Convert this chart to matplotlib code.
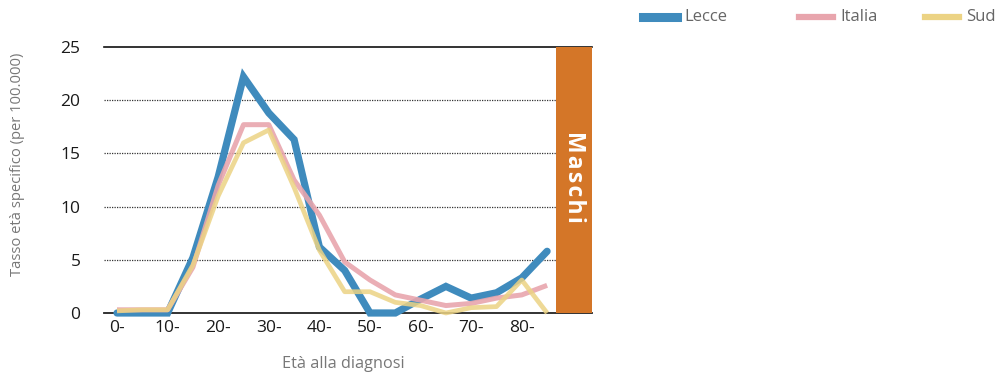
import matplotlib
matplotlib.use("Agg")
import matplotlib.pyplot as plt
from matplotlib.patches import Rectangle

plt.rcParams['font.family'] = ['Open Sans', 'DejaVu Sans']

age_classes = ["0-", "5-", "10-", "15-", "20-", "25-", "30-", "35-", "40-", "45-",
               "50-", "55-", "60-", "65-", "70-", "75-", "80-", "85-"]
lecce = [0.0, 0.0, 0.0, 5.2, 12.8, 22.2, 18.8, 16.3, 6.2, 4.0,
         0.0, 0.0, 1.3, 2.5, 1.4, 1.9, 3.3, 5.8]
italia = [0.3, 0.3, 0.3, 4.3, 12.0, 17.7, 17.7, 12.5, 9.2, 4.8,
          3.1, 1.7, 1.2, 0.7, 0.9, 1.4, 1.7, 2.6]
sud = [0.2, 0.3, 0.3, 4.5, 11.0, 16.0, 17.2, 11.8, 5.9, 2.0,
       2.0, 1.0, 0.7, 0.0, 0.5, 0.6, 3.1, 0.0]
xtick_labels = ["0-", "10-", "20-", "30-", "40-", "50-", "60-", "70-", "80-"]
yticks = [0, 5, 10, 15, 20, 25]
panel_label = "Maschi"

W, H = 997, 376
fig = plt.figure(figsize=(W / 100, H / 100), dpi=100)
left, right, top, bottom = 104, 592, 47, 313
ax = fig.add_axes([left / W, 1 - bottom / H, (right - left) / W, (bottom - top) / H])

x = list(range(len(age_classes)))
step_px = 25.3
x0_px = 117
xmin = (left - x0_px) / step_px
xmax = (right - x0_px) / step_px
ax.set_xlim(xmin, xmax)
ax.set_ylim(0, 25)

panel_start = (556 - x0_px) / step_px

# gridlines
for yv in yticks[1:-1]:
    ax.plot([xmin, panel_start], [yv, yv], color="#333333", lw=0.9,
            linestyle=(0, (1, 1)), zorder=1)
ax.plot([xmin, xmax], [25, 25], color="#111111", lw=1.2, zorder=1, clip_on=False)
ax.plot([xmin, xmax], [0, 0], color="#222222", lw=1.3, zorder=1, clip_on=False)

# orange panel
ax.add_patch(Rectangle((panel_start, 0), xmax - panel_start, 25,
                       facecolor="#d47628", edgecolor="none", zorder=2))
spaced = "\u200a".join(panel_label)
fig.text(574 / W, 1 - 131 / H, spaced, rotation=-90,
         color="white", fontsize=16.5, fontweight="bold", ha="center", va="top",
         zorder=3)

l1, = ax.plot(x, lecce, color="#3f8bbd", lw=5.2, solid_capstyle="round",
              solid_joinstyle="miter", zorder=4, clip_on=False, label="Lecce")
l2, = ax.plot(x, italia, color="#e8a5ad", lw=3.6, alpha=0.9, solid_capstyle="butt",
              zorder=5, clip_on=False, label="Italia")
l3, = ax.plot(x, sud, color="#ecd384", lw=3.4, alpha=0.85, solid_capstyle="butt",
              zorder=5, clip_on=False, label="Sud")

for s in ax.spines.values():
    s.set_visible(False)

ax.set_yticks(yticks)
ax.set_yticklabels([str(v) for v in yticks], fontsize=12.5, color="#1a1a1a")
ax.set_xticks(x[::2])
ax.set_xticklabels(xtick_labels, fontsize=12.5, color="#1a1a1a")
ax.tick_params(axis="both", length=0)
ax.tick_params(axis="y", pad=17)
ax.tick_params(axis="x", pad=5)

fig.text(343 / W, 1 - 364 / H, "Età alla diagnosi", fontsize=11.7, color="#777777",
         ha="center", va="center")
fig.text(18 / W, 1 - 164 / H, "Tasso età specifico (per 100.000)", fontsize=10.6,
         color="#777777", ha="center", va="center", rotation=90)

# legend
legend_items = [(l1, 643, "Lecce", 6.5), (l2, 799, "Italia", 4.5), (l3, 925, "Sud", 4.5)]
ly = 1 - 17 / H
for line, xs, name, lw in legend_items:
    fig.add_artist(plt.Line2D([xs / W, (xs + 34) / W], [ly, ly], color=line.get_color(),
                              lw=lw, transform=fig.transFigure))
    fig.text((xs + 41) / W, ly, name, fontsize=12, color="#666666", va="center", ha="left")

fig.savefig("out.png", dpi=100)
